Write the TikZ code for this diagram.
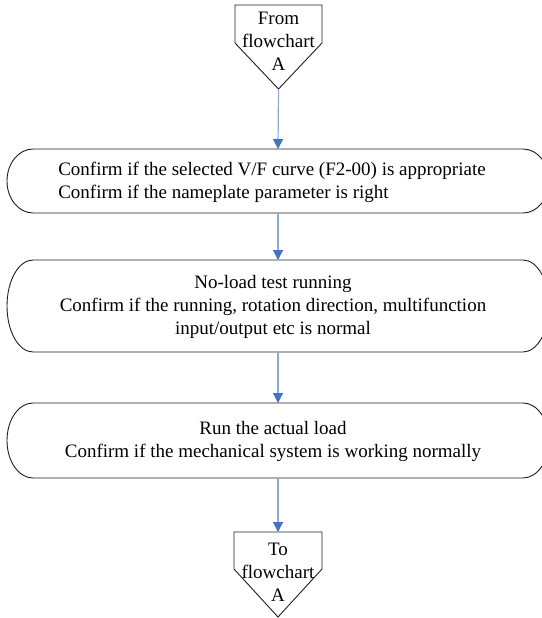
\documentclass[tikz,border=0pt]{standalone}
\usepackage{fontspec}
\setmainfont{Liberation Serif}
\usetikzlibrary{arrows.meta}
\definecolor{flowline}{RGB}{142,170,219}
\definecolor{flowhead}{RGB}{68,114,196}
\definecolor{edge}{RGB}{30,30,30}
\begin{document}
\begin{tikzpicture}[x=1pt,y=1pt,
  txt/.style={font=\fontsize{19}{23}\selectfont, inner sep=0pt},
  frame/.style={draw=none, minimum width=542pt, inner sep=0pt, outer sep=0pt},
  outline/.style={draw=edge, line width=0.9pt},
  flow/.style={draw=flowline, line width=1.2pt, -{Triangle[width=10pt,length=10pt,fill=flowhead,color=flowhead]}}]
\useasboundingbox (0,0) rectangle (541,-618);

% off-page connectors
\coordinate (fromtip) at (278.5,-89);
\draw[outline] (235,-5) -- (322,-5) -- (322,-43) -- (fromtip) -- (235,-43) -- cycle;
\node[txt, align=center] (fromA) at (278.5,-41) {From\\flowchart\\A};

\coordinate (totop) at (278,-532);
\draw[outline] (234,-532) -- (322,-532) -- (322,-569) -- (278,-617) -- (234,-569) -- cycle;
\node[txt, align=center] (toA) at (278,-572) {To\\flowchart\\A};

% process boxes
\node[frame, minimum height=64pt] (b1) at (278,-181) {};
\draw[outline] ([xshift=26pt]b1.north west) -- ([xshift=-26pt]b1.north east)
  arc[start angle=90, end angle=-90, x radius=26pt, y radius=32pt]
  -- ([xshift=26pt]b1.south west)
  arc[start angle=270, end angle=90, x radius=26pt, y radius=32pt] -- cycle;
\node[txt, align=left] (t1) at (272,-182) {Confirm if the selected V/F curve (F2-00) is appropriate\\Confirm if the nameplate parameter is right};

\node[frame, minimum height=92pt] (b2) at (278,-306) {};
\draw[outline] ([xshift=26pt]b2.north west) -- ([xshift=-26pt]b2.north east)
  arc[start angle=90, end angle=-90, x radius=26pt, y radius=46pt]
  -- ([xshift=26pt]b2.south west)
  arc[start angle=270, end angle=90, x radius=26pt, y radius=46pt] -- cycle;
\node[txt, align=center] (t2) at (273,-307) {No-load test running\\Confirm if the running, rotation direction, multifunction\\input/output etc is normal};

\node[frame, minimum height=75pt] (b3) at (278,-440.5) {};
\draw[outline] ([xshift=26pt]b3.north west) -- ([xshift=-26pt]b3.north east)
  arc[start angle=90, end angle=-90, x radius=26pt, y radius=37.5pt]
  -- ([xshift=26pt]b3.south west)
  arc[start angle=270, end angle=90, x radius=26pt, y radius=37.5pt] -- cycle;
\node[txt, align=center] (t3) at (273,-441) {Run the actual load\\Confirm if the mechanical system is working normally};

% connectors
\draw[flow] (fromtip) -- (b1.north);
\draw[flow] (b1.south) -- (b2.north);
\draw[flow] (b2.south) -- (b3.north);
\draw[flow] (b3.south) -- (totop);
\end{tikzpicture}
\end{document}
